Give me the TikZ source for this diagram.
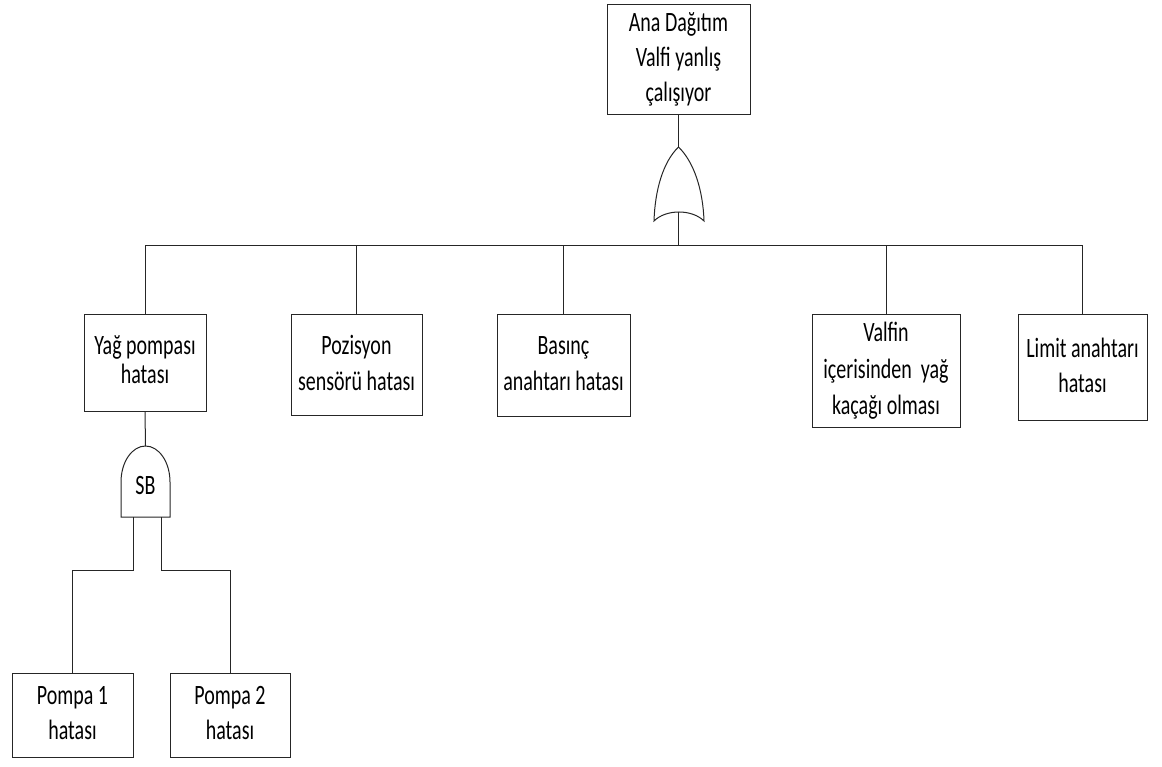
\documentclass[tikz,border=0pt]{standalone}
\usepackage{graphicx}
\usepackage{fontspec}
\setmainfont{Carlito}
% narrow, tall lettering: set the lines in a tabular and stretch it vertically
\newcommand{\tallines}[2][25]{\scalebox{1}[1.4]{\fontsize{20}{#1}\selectfont\begin{tabular}{@{}c@{}}#2\end{tabular}}}
\tikzset{
  wire/.style={draw=black!85, line width=1pt},
  event/.style={draw=black!85, line width=1pt, rectangle, inner sep=0pt, align=center},
  gatefill/.style={draw=black!85, line width=1pt, fill=white},
}
\begin{document}
\begin{tikzpicture}[x=1pt, y=-1pt]
  \useasboundingbox (0,0) rectangle (1162,767);

  % top event
  \node[event, minimum width=143pt, minimum height=110pt] (top) at (678.5,60) {\tallines{Ana Dağıtım\\Valfi yanlış\\çalışıyor}};

  % first-level events
  \node[event, minimum width=122pt, minimum height=96pt]  (e1) at (145,363)   {\tallines[21]{Yağ pompası\\hatası}};
  \node[event, minimum width=131pt, minimum height=100pt] (e2) at (356.5,365) {\tallines[26]{Pozisyon\\sensörü hatası}};
  \node[event, minimum width=133pt, minimum height=101pt] (e3) at (563.5,365.5) {\tallines[26]{Basınç\\anahtarı hatası}};
  \node[event, minimum width=148pt, minimum height=112pt] (e4) at (886,371)   {\tallines[26]{Valfin\\içerisinden\ \ yağ\\kaçağı olması}};
  \node[event, minimum width=129pt, minimum height=105pt] (e5) at (1082.5,367.5) {\tallines{Limit anahtarı\\hatası}};

  % pump events
  \node[event, minimum width=121pt, minimum height=84pt] (p1) at (72.5,715)  {\tallines{Pompa 1\\hatası}};
  \node[event, minimum width=120pt, minimum height=84pt] (p2) at (230,715)   {\tallines{Pompa 2\\hatası}};

  % OR gate under the top event
  \coordinate (orTip) at (678.5,147);
  \coordinate (orIn)  at (678.5,212);
  \coordinate (bus)   at (678.5,245.5);
  \draw[gatefill] (654,221) .. controls (655,190) and (663,162) .. (orTip)
                  .. controls (694,162) and (703,190) .. (704,221)
                  .. controls (692,209) and (666,209) .. cycle;

  % AND gate (SB) under the oil pump event
  \coordinate (sbTop) at (145.5,446);
  \draw[gatefill] (121,517) -- (121,482) arc[start angle=180, end angle=360, x radius=24.5, y radius=36] -- (170,517) -- cycle;
  \node[inner sep=0pt] (sb) at (145.5,487) {\tallines{SB}};
  \coordinate (sbL) at (133,517);
  \coordinate (sbR) at (161,517);
  \coordinate (split) at (145.5,570.5);

  % connectors
  \draw[wire] (top.south) -- (orTip);
  \draw[wire] (orIn) -- (bus);
  \draw[wire] (e1.north) |- (bus) -| (e5.north);
  \draw[wire] (e2.north) -- (e2.north |- bus);
  \draw[wire] (e3.north) -- (e3.north |- bus);
  \draw[wire] (e4.north) -- (e4.north |- bus);
  \draw[wire] (e1.south) -- (sbTop);
  \draw[wire] (sbL) |- (split -| p1.north) -- (p1.north);
  \draw[wire] (sbR) |- (split -| p2.north) -- (p2.north);
\end{tikzpicture}
\end{document}
